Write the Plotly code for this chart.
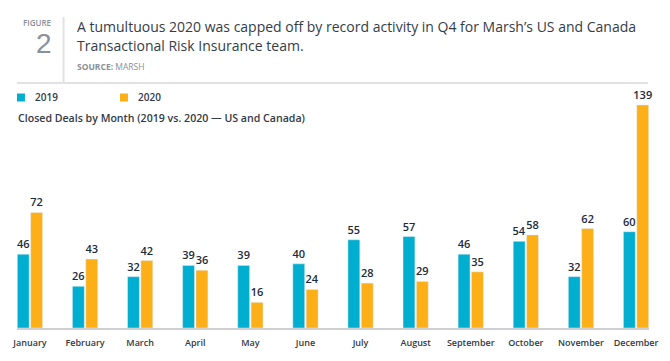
import plotly.graph_objects as go

months = ["January", "February", "March", "April", "May", "June", "July",
          "August", "September", "October", "November", "December"]
deals_2019 = [46, 26, 32, 39, 39, 40, 55, 57, 46, 54, 32, 60]
deals_2020 = [72, 43, 42, 36, 16, 24, 28, 29, 35, 58, 62, 139]

C2019 = "#00AECF"
C2020 = "#FCAF17"
W, H = 670, 361
ML, MR, MT, MB = 17, 15, 100, 33
PW = W - ML - MR
PH = H - MT - MB

def px(x):
    return (x - ML) / PW

def py(y):
    return (H - MB - y) / PH

FONT = "Open Sans"
LABEL_FONT = dict(family=FONT, size=11, color="#1d2a3a", weight=600)
fig = go.Figure()
fig.add_trace(go.Bar(x=months, y=deals_2019, name="2019", marker_color=C2019,
                     text=deals_2019, textposition="outside", cliponaxis=False,
                     constraintext="none", textfont=LABEL_FONT))
fig.add_trace(go.Bar(x=months, y=deals_2020, name="2020", marker_color=C2020,
                     text=deals_2020, textposition="outside", cliponaxis=False,
                     constraintext="none", textfont=LABEL_FONT))

fig.update_layout(
    width=W, height=H, margin=dict(l=ML, r=MR, t=MT, b=MB),
    paper_bgcolor="white", plot_bgcolor="white",
    barmode="group", bargap=0.515, bargroupgap=0.11,
    showlegend=False,
    xaxis=dict(range=[-0.235, 11.235], showline=True, linecolor="#d0d0d4", linewidth=2,
               showgrid=False, ticks="", fixedrange=True, ticklabelstandoff=5,
               tickfont=dict(family=FONT, size=9, color="#333a44", weight=600)),
    yaxis=dict(range=[0, 142.1], visible=False, fixedrange=True),
    font=dict(family=FONT),
)

# header
shapes = [
    dict(type="line", xref="paper", yref="paper", x0=px(64), x1=px(64), y0=py(17), y1=py(83),
         line=dict(color="#e2e2e4", width=2)),
    dict(type="line", xref="paper", yref="paper", x0=px(17), x1=px(654), y0=py(83), y1=py(83),
         line=dict(color="#e2e2e4", width=2)),
    dict(type="rect", xref="paper", yref="paper", x0=px(17), x1=px(25), y0=py(93.5), y1=py(101.5),
         fillcolor=C2019, line=dict(width=0)),
    dict(type="rect", xref="paper", yref="paper", x0=px(121), x1=px(129), y0=py(93.5), y1=py(101.5),
         fillcolor=C2020, line=dict(width=0)),
]
ann = [
    dict(text="FIGURE", x=px(37.5), y=py(22.5), xanchor="center", yanchor="middle",
         font=dict(family=FONT, size=8, color="#8a9099", weight=600)),
    dict(text="2", x=px(44), y=py(44), xanchor="center", yanchor="middle",
         font=dict(family="Liberation Sans", size=28, color="#8a9099")),
    dict(text="A tumultuous 2020 was capped off by record activity in Q4 for Marsh’s US and Canada",
         x=px(76), y=py(26), xanchor="left", yanchor="middle",
         font=dict(family=FONT, size=14, color="#333d47")),
    dict(text="Transactional Risk Insurance team.",
         x=px(76), y=py(45), xanchor="left", yanchor="middle",
         font=dict(family=FONT, size=14, color="#333d47")),
    dict(text="<b>SOURCE:</b> MARSH", x=px(76), y=py(66), xanchor="left", yanchor="middle",
         font=dict(family=FONT, size=8.5, color="#8a9099")),
    dict(text="2019", x=px(33), y=py(97.5), xanchor="left", yanchor="middle",
         font=dict(family=FONT, size=10, color="#333a44", weight=600)),
    dict(text="2020", x=px(137), y=py(97.5), xanchor="left", yanchor="middle",
         font=dict(family=FONT, size=10, color="#333a44", weight=600)),
    dict(text="Closed Deals by Month (2019 vs. 2020 — US and Canada)", x=px(16), y=py(117.5),
         xanchor="left", yanchor="middle",
         font=dict(family=FONT, size=10.6, color="#333a44", weight=600)),
]
for a in ann:
    a.update(xref="paper", yref="paper", showarrow=False)
fig.update_layout(shapes=shapes, annotations=ann)

fig.write_html("out.html", config={"displayModeBar": False},
               post_script="document.body.style.margin='0';document.body.style.overflow='hidden';")
